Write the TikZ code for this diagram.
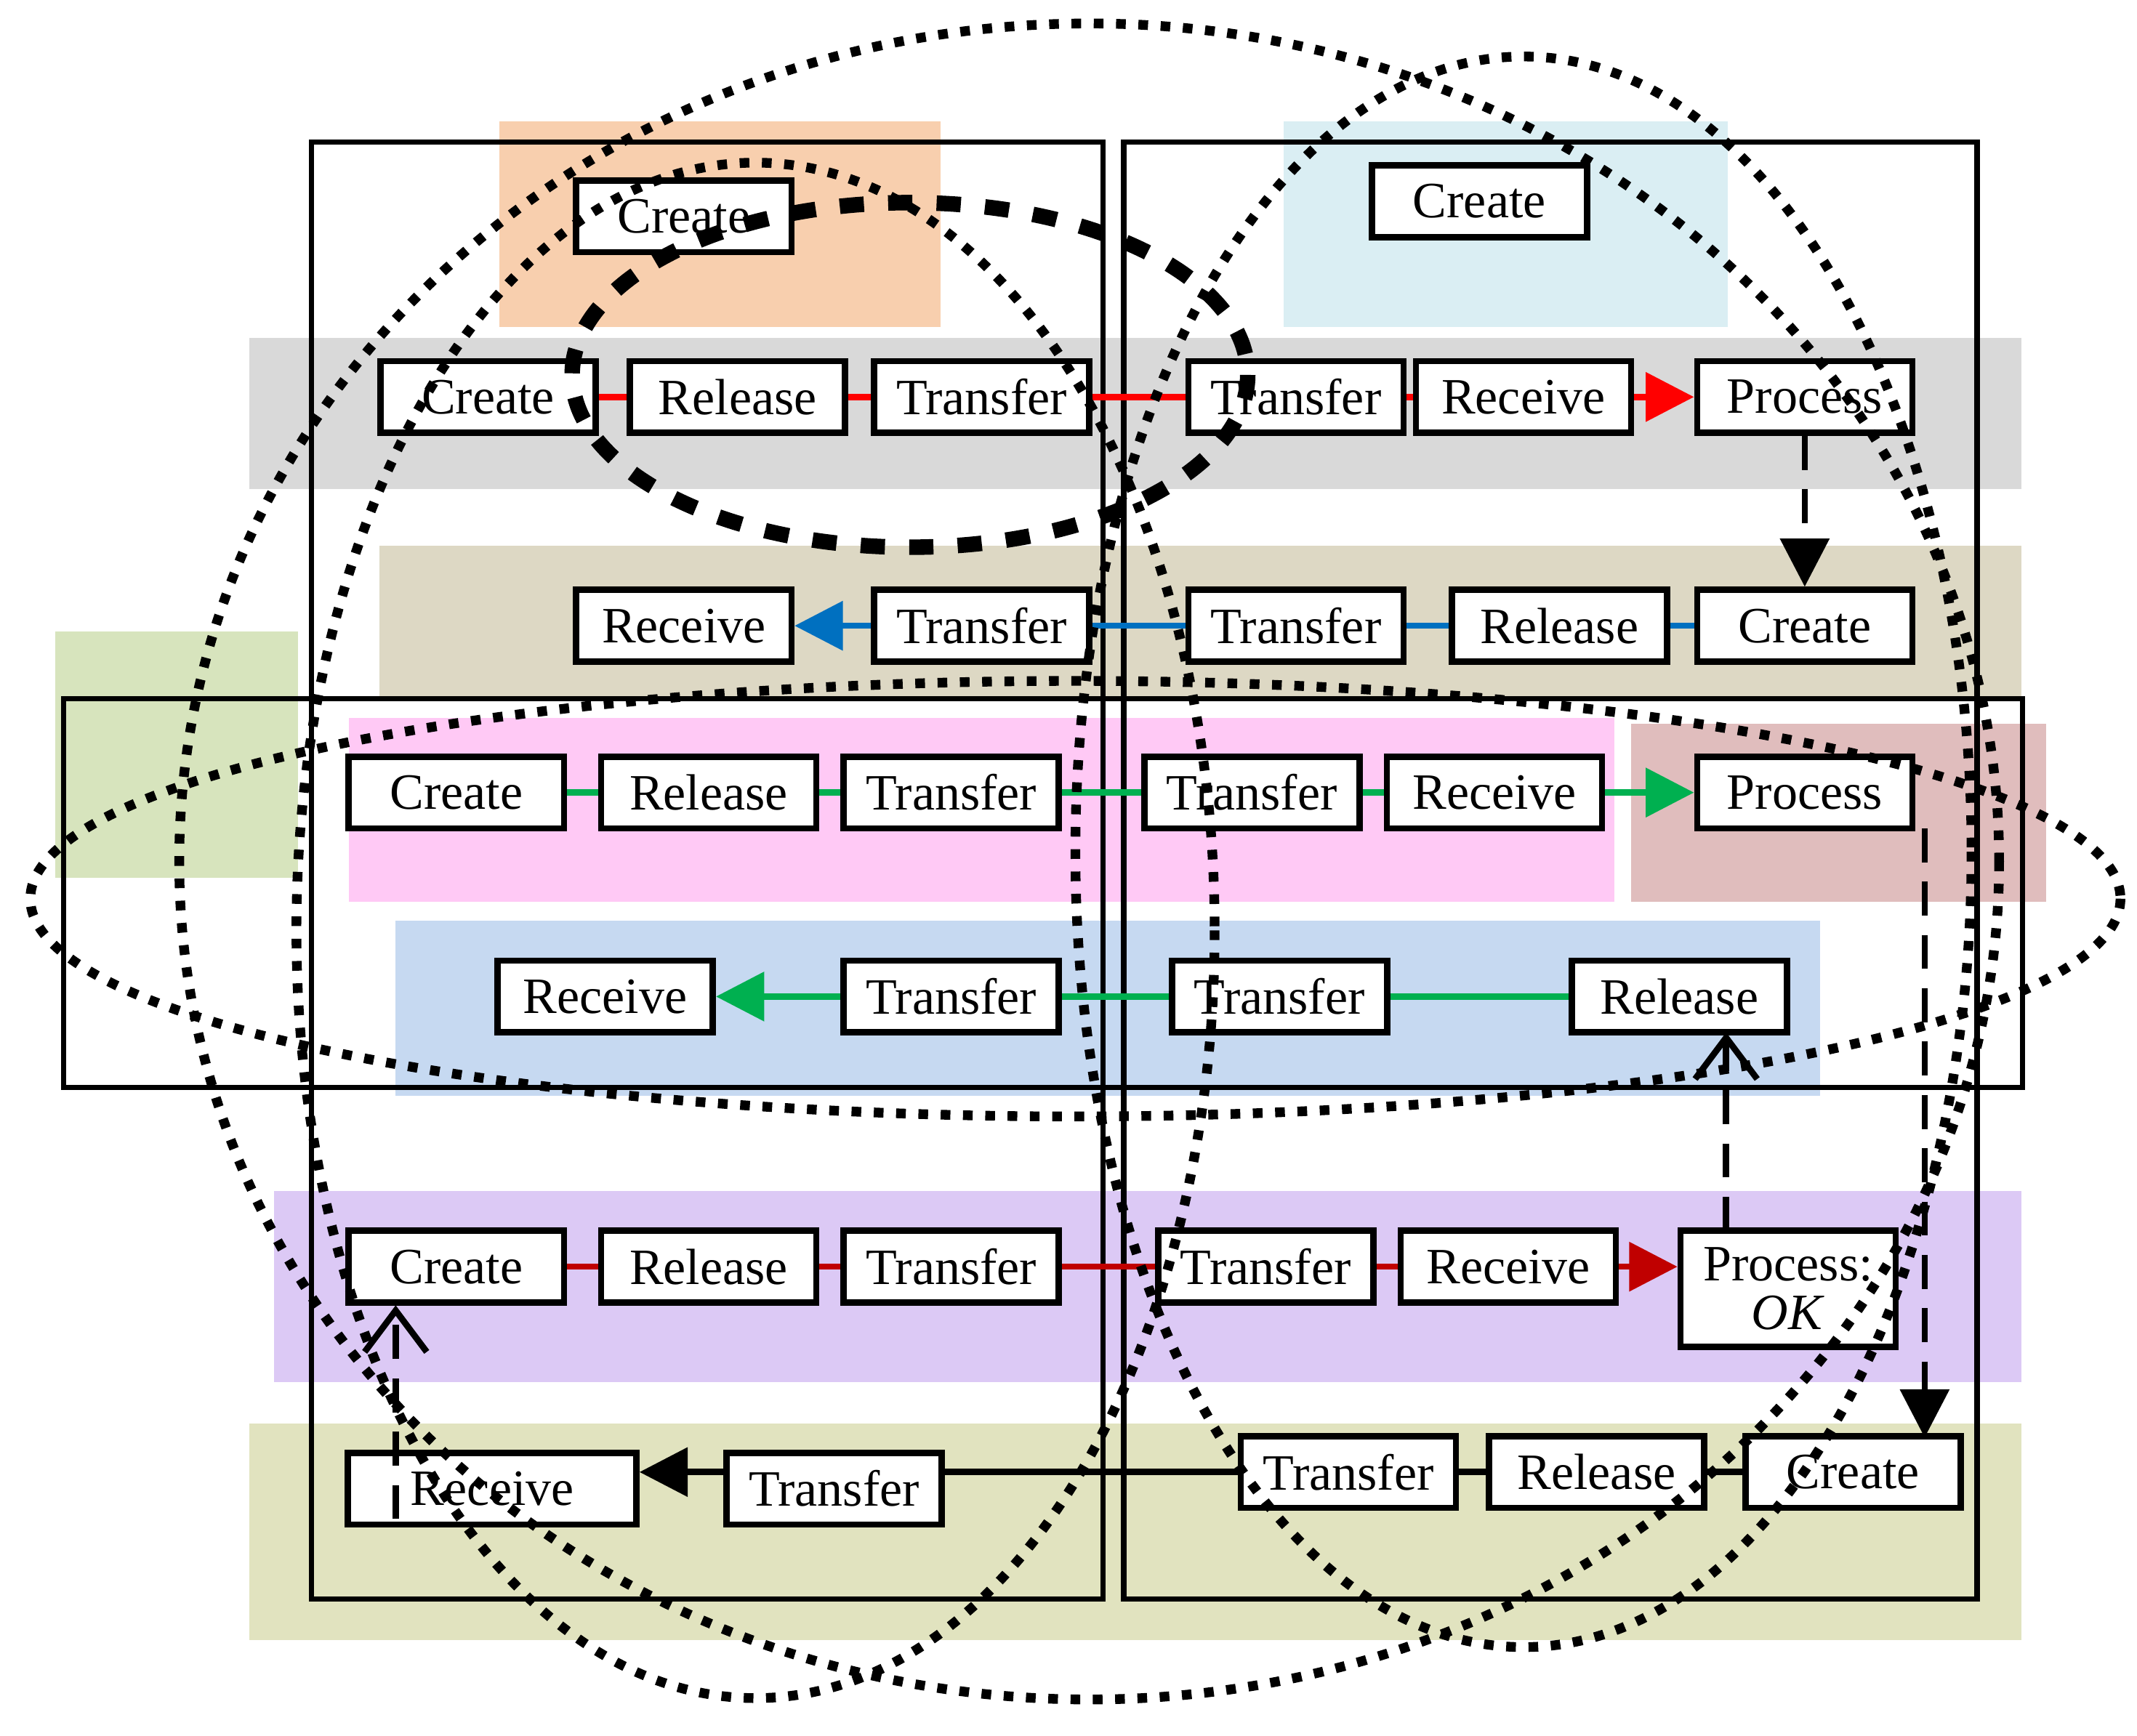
\documentclass[tikz,border=0pt]{standalone}
\usepackage{fontspec}
\setmainfont{Liberation Serif}
\usetikzlibrary{arrows.meta}
\begin{document}
\begin{tikzpicture}[x=0.01cm,y=-0.01cm,
 box/.style={draw,fill=white,line width=1.3pt,minimum width=1.56cm,minimum height=0.52cm,inner sep=0pt,font=\fontsize{10.5pt}{11pt}\selectfont},
 frame/.style={draw,line width=1.1pt},
 dots/.style={line width=2pt,dash pattern=on 2pt off 2.6pt},
 lnk/.style={line width=1.3pt},
 tri/.style={-{Triangle[length=0.35cm,width=0.35cm]}},
 dsh/.style={line width=1.3pt,dash pattern=on 7pt off 4pt},
 opn/.style={-{Straight Barb[length=0.3cm,width=0.45cm,line width=1.3pt]}}]
\useasboundingbox (0,0) rectangle (1550,1259.5);
% backgrounds
\fill[fill={rgb,255:red,248;green,207;blue,174}] (362,88) rectangle (682,237);
\fill[fill={rgb,255:red,218;green,238;blue,243}] (931,88) rectangle (1253,237);
\fill[fill={rgb,255:red,217;green,217;blue,217}] (181,245) rectangle (1466,355);
\fill[fill={rgb,255:red,221;green,216;blue,196}] (275,396) rectangle (1466,505);
\fill[fill={rgb,255:red,215;green,228;blue,189}] (40,458) rectangle (216,637);
\fill[fill={rgb,255:red,255;green,201;blue,245}] (253,521) rectangle (1171,654);
\fill[fill={rgb,255:red,224;green,189;blue,189}] (1183,525) rectangle (1484,654);
\fill[fill={rgb,255:red,198;green,217;blue,241}] (287,668) rectangle (1320,795);
\fill[fill={rgb,255:red,220;green,201;blue,245}] (199,864) rectangle (1466,1003);
\fill[fill={rgb,255:red,225;green,227;blue,191}] (181,1033) rectangle (1466,1190);
% frames
\draw[frame] (226,103) rectangle (800,1160);
\draw[frame] (815,103) rectangle (1434,1160);
\draw[frame] (46,507) rectangle (1467,789);
% row 1
\node[box] (c1a) at (496,157) {Create};
\node[box] (c1b) at (1073,146) {Create};
% row 2
\node[box] (r2a) at (354,288) {Create};
\node[box] (r2b) at (535,288) {Release};
\node[box] (r2c) at (712,288) {Transfer};
\node[box] (r2d) at (940,288) {Transfer};
\node[box] (r2e) at (1105,288) {Receive};
\node[box] (r2f) at (1309,288) {Process};
\draw[lnk,red] (r2a)--(r2b); \draw[lnk,red] (r2b)--(r2c); \draw[lnk,red] (r2c)--(r2d); \draw[lnk,red] (r2d)--(r2e);
\draw[lnk,red,tri] (r2e)--(r2f);
% row 3
\node[box] (r3a) at (496,454) {Receive};
\node[box] (r3b) at (712,454) {Transfer};
\node[box] (r3c) at (940,454) {Transfer};
\node[box] (r3d) at (1131,454) {Release};
\node[box] (r3e) at (1309,454) {Create};
\definecolor{bl}{RGB}{0,112,192}
\draw[lnk,bl] (r3e)--(r3d); \draw[lnk,bl] (r3d)--(r3c); \draw[lnk,bl] (r3c)--(r3b);
\draw[lnk,bl,tri] (r3b)--(r3a);
\draw[dsh,tri] (r2f)--(r3e);
% row 4
\definecolor{gr}{RGB}{0,176,80}
\node[box] (r4a) at (331,575) {Create};
\node[box] (r4b) at (514,575) {Release};
\node[box] (r4c) at (690,575) {Transfer};
\node[box] (r4d) at (908,575) {Transfer};
\node[box] (r4e) at (1084,575) {Receive};
\node[box] (r4f) at (1309,575) {Process};
\draw[lnk,gr] (r4a)--(r4b); \draw[lnk,gr] (r4b)--(r4c); \draw[lnk,gr] (r4c)--(r4d); \draw[lnk,gr] (r4d)--(r4e);
\draw[lnk,gr,tri] (r4e)--(r4f);
% row 5
\node[box] (r5a) at (439,723) {Receive};
\node[box] (r5b) at (690,723) {Transfer};
\node[box] (r5c) at (928,723) {Transfer};
\node[box] (r5d) at (1218,723) {Release};
\draw[lnk,gr] (r5d)--(r5c); \draw[lnk,gr] (r5c)--(r5b);
\draw[lnk,gr,tri] (r5b)--(r5a);
% row 6
\definecolor{dr}{RGB}{192,0,0}
\node[box] (r6a) at (331,919) {Create};
\node[box] (r6b) at (514,919) {Release};
\node[box] (r6c) at (690,919) {Transfer};
\node[box] (r6d) at (918,919) {Transfer};
\node[box] (r6e) at (1094,919) {Receive};
\node[box,minimum height=0.84cm,align=center] (r6f) at (1297,935) {Process:\\[-1pt]\textit{OK}};
\draw[lnk,dr] (r6a)--(r6b); \draw[lnk,dr] (r6b)--(r6c); \draw[lnk,dr] (r6c)--(r6d); \draw[lnk,dr] (r6d)--(r6e);
\draw[lnk,dr,tri] (r6e)--(r6f.west|-r6e);
% row 7
\node[box,minimum width=2.09cm] (r7a) at (357,1080) {Receive};
\node[box] (r7b) at (605,1080) {Transfer};
\node[box] (r7c) at (978,1068) {Transfer};
\node[box] (r7d) at (1158,1068) {Release};
\node[box] (r7e) at (1344,1068) {Create};
\draw[lnk] (r7e)--(r7d); \draw[lnk] (r7d)--(r7c);
\draw[lnk] (r7c.west)--(r7b.east|-r7c.west);
\draw[lnk,tri] (r7b.west|-r7c.west)--(r7a.east|-r7c.west);
% dashed vertical arrows
\draw[dsh,tri] (1396,601)--(1396,1043);
\draw[dsh,opn] (1252,893)--(1252,749);
\draw[dsh,opn] (287,1102)--(287,947);
% dotted ellipses
\draw[dots] (790,625) ellipse [x radius=660, y radius=608];
\draw[dots] (1105,618) ellipse [x radius=325, y radius=577];
\draw[dots] (548,675) ellipse [x radius=333, y radius=557];
\draw[dots] (780,652) ellipse [x radius=758, y radius=158];
\draw[line width=3.2pt,dash pattern=on 5pt off 5pt] (660,272) ellipse [x radius=245, y radius=125];
\end{tikzpicture}
\end{document}
